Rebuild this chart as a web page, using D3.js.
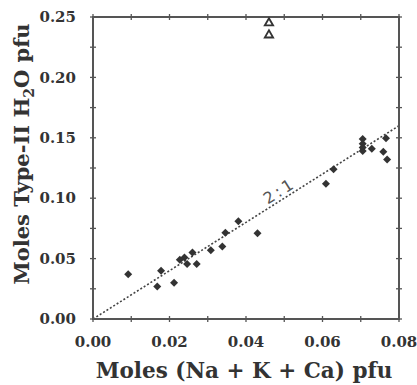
<!DOCTYPE html>
<html>
<head>
<meta charset="utf-8">
<script src="https://cdn.jsdelivr.net/npm/d3@7"></script>
<style>
  body { margin: 0; background: #fff; }
  text { font-family: "DejaVu Serif", serif; font-weight: bold; fill: #333; }
</style>
</head>
<body>
<div id="chart"></div>
<script>
// data
const cationMoles = [0.0092, 0.0168, 0.0178, 0.0212, 0.0227, 0.0239, 0.0246, 0.0260, 0.0271,
    0.0308, 0.0338, 0.0346, 0.0380, 0.0430, 0.0609, 0.0629,
    0.0705, 0.0705, 0.0705, 0.0705, 0.0729, 0.0759, 0.0766, 0.0769]
const waterMoles = [0.037, 0.027, 0.040, 0.030, 0.049, 0.051, 0.0455, 0.055, 0.0455,
    0.057, 0.060, 0.0715, 0.081, 0.071, 0.112, 0.124,
    0.149, 0.145, 0.142, 0.139, 0.141, 0.1385, 0.1496, 0.132]
const outlierX = [0.046, 0.046]
const outlierY = [0.245, 0.235]
const ratioLine = [[0, 0], [0.08, 0.16]]
const xTicks = [0, 0.02, 0.04, 0.06, 0.08]
const yTicks = [0, 0.05, 0.10, 0.15, 0.20, 0.25]

const dimensions = {
    width: 417,
    height: 385,
    margin: { top: 17, right: 18, bottom: 66, left: 93 },
}
dimensions.boundedWidth = dimensions.width - dimensions.margin.left - dimensions.margin.right
dimensions.boundedHeight = dimensions.height - dimensions.margin.top - dimensions.margin.bottom

const svg = d3.select("#chart").append("svg")
    .attr("width", dimensions.width)
    .attr("height", dimensions.height)
const bounds = svg.append("g")
    .attr("transform", `translate(${dimensions.margin.left},${dimensions.margin.top})`)

const xScale = d3.scaleLinear().domain([0, 0.08]).range([0, dimensions.boundedWidth])
const yScale = d3.scaleLinear().domain([0, 0.25]).range([dimensions.boundedHeight, 0])

// 2:1 line
bounds.append("path")
    .attr("d", d3.line().x(d => xScale(d[0])).y(d => yScale(d[1]))(ratioLine))
    .attr("fill", "none")
    .attr("stroke", "#444")
    .attr("stroke-width", 1.6)
    .attr("stroke-dasharray", "2,2")

const angle = Math.atan2(yScale(0) - yScale(0.16), xScale(0.08)) * 180 / Math.PI
bounds.append("text")
    .attr("transform", `translate(${xScale(0.0495)},${yScale(0.099) - 4}) rotate(${-angle})`)
    .attr("text-anchor", "middle")
    .style("font-family", "'DejaVu Sans', sans-serif")
    .style("font-weight", "normal")
    .style("font-size", "16px")
    .style("letter-spacing", "3px")
    .style("fill", "#555")
    .text("2:1")

// frame + ticks
const tickLen = 3
bounds.append("rect")
    .attr("width", dimensions.boundedWidth)
    .attr("height", dimensions.boundedHeight)
    .attr("fill", "none")
    .attr("stroke", "#555")
    .attr("stroke-width", 2)

const xMinor = d3.range(0, 0.0801, 0.01)
const yMinor = d3.range(0, 0.2501, 0.025)
const tickG = bounds.append("g").attr("stroke", "#555").attr("stroke-width", 1.3)
;[0, dimensions.boundedHeight].forEach(y0 => {
    tickG.selectAll(null).data(xMinor).join("line")
        .attr("x1", d => xScale(d)).attr("x2", d => xScale(d))
        .attr("y1", y0 - tickLen).attr("y2", y0 + tickLen)
})
;[0, dimensions.boundedWidth].forEach(x0 => {
    tickG.selectAll(null).data(yMinor).join("line")
        .attr("y1", d => yScale(d)).attr("y2", d => yScale(d))
        .attr("x1", x0 - tickLen).attr("x2", x0 + tickLen)
})

bounds.append("g").selectAll("text").data(xTicks).join("text")
    .attr("x", d => xScale(d))
    .attr("y", dimensions.boundedHeight + 28)
    .attr("text-anchor", "middle")
    .style("font-size", "15px")
    .text(d => d.toFixed(2))

bounds.append("g").selectAll("text").data(yTicks).join("text")
    .attr("x", -17)
    .attr("y", d => yScale(d))
    .attr("dy", "0.35em")
    .attr("text-anchor", "end")
    .style("font-size", "15px")
    .text(d => d.toFixed(2))

// points
const diamond = d3.symbol().type(d3.symbolSquare).size(32)
bounds.append("g").selectAll("path").data(cationMoles).join("path")
    .attr("d", diamond)
    .attr("transform", (d, i) => `translate(${xScale(d)},${yScale(waterMoles[i])}) rotate(45)`)
    .attr("fill", "#333")

const triangle = d3.symbol().type(d3.symbolTriangle).size(30)
bounds.append("g").selectAll("path").data(outlierX).join("path")
    .attr("d", triangle)
    .attr("transform", (d, i) => `translate(${xScale(d)},${yScale(outlierY[i])})`)
    .attr("fill", "none")
    .attr("stroke", "#333")
    .attr("stroke-width", 1.8)

// axis labels
svg.append("text")
    .attr("x", 244)
    .attr("y", 378)
    .attr("text-anchor", "middle")
    .style("font-size", "21.5px")
    .text("Moles (Na + K + Ca) pfu")

const yLabel = svg.append("text")
    .attr("transform", `translate(29,154) rotate(-90)`)
    .attr("text-anchor", "middle")
    .style("font-size", "21px")
yLabel.append("tspan").text("Moles Type-II H")
yLabel.append("tspan").attr("dy", 5).style("font-size", "14px").text("2")
yLabel.append("tspan").attr("dy", -5).text("O pfu")
</script>
</body>
</html>
